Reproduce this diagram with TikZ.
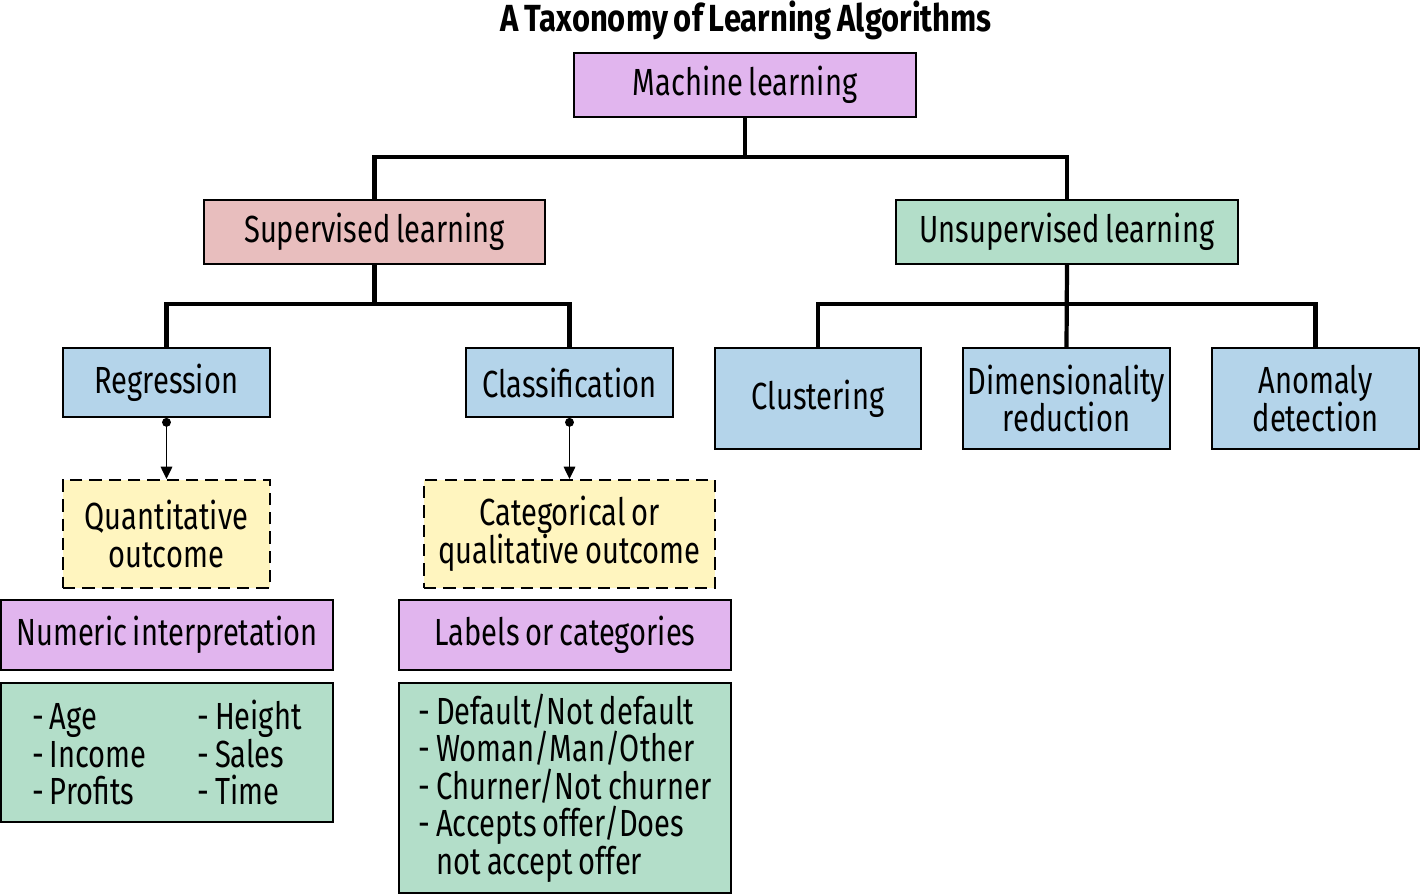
\documentclass[tikz,border=0pt]{standalone}
\usepackage{fontspec}
\setmainfont{Fira Sans}[FakeStretch=0.77,WordSpace=0.75]
\newfontfamily\titlefont{Fira Sans}[FakeStretch=0.82,WordSpace=0.8]
\usepackage{xcolor}
\usepackage{tikz}
\usetikzlibrary{arrows.meta,calc}
\definecolor{lilac}{HTML}{E1B5EE}
\definecolor{rose}{HTML}{E8BEBE}
\definecolor{mint}{HTML}{B3DEC9}
\definecolor{sky}{HTML}{B4D4EA}
\definecolor{cream}{HTML}{FFF5BF}
\newcommand{\lcol}[1]{\makebox[94pt][l]{#1}}
\tikzset{
  every box/.style={
    draw=black,line width=1.1pt,rectangle,align=center,inner sep=2pt,
    font=\fontsize{21.5}{21.4}\selectfont,
  },
  box/.style={every box,minimum width=#1},
  outbox/.style={every box,dashed,dash pattern=on 7pt off 4pt,fill=cream},
  listbox/.style={every box,fill=mint,align=left,minimum width=6.64cm},
}
\tikzset{
  treeline/.style={line width=2.4pt},
  flowline/.style={line width=1.1pt,{Circle[length=5pt]}-{Triangle[length=7pt,width=6.5pt]}},
}
\begin{document}
\begin{tikzpicture}[x=0.02cm,y=-0.02cm]
			\useasboundingbox (0,0) rectangle (1420,895);
			\node[font=\fontsize{21.5}{21.5}\titlefont\bfseries] (title) at (746,20) {A Taxonomy of Learning Algorithms};
			\node[box=6.84cm,minimum height=1.28cm,fill=lilac] (ml) at (745,85) {Machine learning};
			\node[box=6.82cm,minimum height=1.28cm,fill=rose] (sup) at (374.5,232) {Supervised learning};
			\node[box=6.84cm,minimum height=1.28cm,fill=mint] (unsup) at (1067,232) {Unsupervised learning};
			% supervised branch
			\node[box=4.14cm,minimum height=1.38cm,fill=sky] (reg) at (166.5,382.5) {Regression};
			\node[box=4.14cm,minimum height=1.38cm,fill=sky] (cls) at (569.5,382.5) {Classification};
			\node[outbox,minimum width=4.14cm,minimum height=2.16cm] (quant) at (166.5,534) {Quantitative\\outcome};
			\node[outbox,minimum width=5.82cm,minimum height=2.16cm] (cat) at (569.5,534) {Categorical or\\qualitative outcome};
			\node[box=6.64cm,minimum height=1.40cm,fill=lilac] (num) at (167,635) {Numeric interpretation};
			\node[box=6.64cm,minimum height=1.40cm,fill=lilac] (lab) at (565,635) {Labels or categories};
			\node[listbox,minimum height=2.78cm] (numlist) at (167,752.5)
				{\lcol{- Age}- Height\\
				\lcol{- Income}- Sales\\
				\lcol{- Profits}- Time};
			\node[listbox,minimum height=4.20cm] (lablist) at (565,788)
				{- Default/Not default\\
				- Woman/Man/Other\\
				- Churner/Not churner\\
				- Accepts offer/Does\\
				\phantom{-\,}not accept offer};
			% unsupervised branch
			\node[box=4.12cm,minimum height=2.02cm,fill=sky] (clu) at (818,398.5) {Clustering};
			\node[box=4.14cm,minimum height=2.02cm,fill=sky] (dim) at (1066.5,398.5) {Dimensionality\\reduction};
			\node[box=4.14cm,minimum height=2.02cm,fill=sky] (ano) at (1315.5,398.5) {Anomaly\\detection};
			% connectors
			\coordinate (mlj) at ($(ml.south)+(0,39)$);
			\coordinate (supj) at ($(sup.south)+(0,39)$);
			\coordinate (unsupj) at ($(unsup.south)+(0,39)$);
			\draw [treeline] (ml.south) -- (mlj);
			\draw [treeline] (sup.north) |- (mlj) -| (unsup.north);
			\draw [treeline] (sup.south) -- (supj);
			\draw [treeline] (reg.north) |- (supj) -| (cls.north);
			\draw [treeline] (unsup.south) -- (dim.north);
			\draw [treeline] (clu.north) |- (unsupj) -| (ano.north);
			\draw [flowline] (reg) -- (quant);
			\draw [flowline] (cls) -- (cat);
		\end{tikzpicture}
\end{document}
